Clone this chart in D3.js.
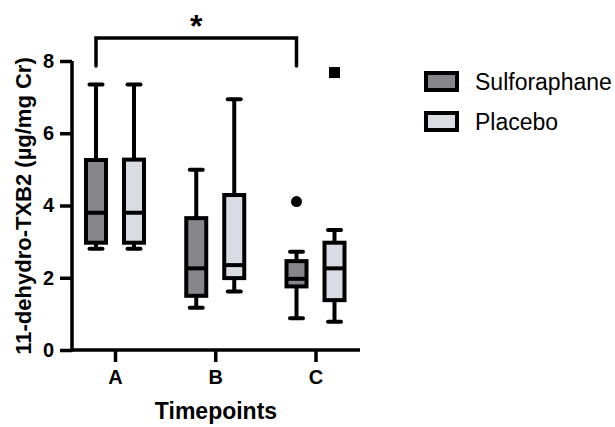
<!DOCTYPE html>
<html lang="en">
<head>
  <meta charset="UTF-8">
  <title>11-dehydro-TXB2 box plot</title>
  <style>
  body { margin: 0; background: #fff; }
  text { font-family: "Liberation Sans", Arial, sans-serif; fill: #000; }
  .axis path, .axis line { stroke: #000; stroke-width: 3.5px; }
  .axis text { font-size: 20px; font-weight: bold; }
  .box rect { stroke: #000; stroke-width: 4px; }
  .box line { stroke: #000; stroke-width: 4px; }
  </style>
</head>
<body>
  <script src="https://d3js.org/d3.v7.min.js"></script>
  <script type="text/javascript">

    var timepoints = ["A", "B", "C"];
    var groups = ["Sulforaphane", "Placebo"];
    var colors = ["#86868b", "#d9dde3"];
    var yTicks = [0, 2, 4, 6, 8];

    // [whisker low, q1, median, q3, whisker high] per timepoint
    var sulforaphane = [
      [2.8, 2.97, 3.8, 5.26, 7.35],
      [1.17, 1.5, 2.26, 3.65, 4.99],
      [0.88, 1.76, 1.97, 2.46, 2.72]
    ];
    var placebo = [
      [2.8, 2.97, 3.8, 5.27, 7.35],
      [1.62, 1.99, 2.35, 4.29, 6.94],
      [0.78, 1.38, 2.26, 2.97, 3.32]
    ];
    var sulforaphaneOutliers = [{t: "C", v: 4.11}];
    var placeboOutliers = [{t: "C", v: 7.68}];

    var width = 615;
    var height = 427;
    var svg = d3.select("body")
        .append("svg")
          .attr("width", width)
          .attr("height", height);

    var x = d3.scalePoint().domain(timepoints).range([115, 315.5]);
    var y = d3.scaleLinear().domain([0, 8]).range([350, 61]);
    var offset = d3.scalePoint().domain(groups).range([-19, 19]);

    // axes
    var yAxis = svg.append("g")
        .attr("class", "axis")
        .attr("transform", "translate(72,0)")
        .call(d3.axisLeft(y).tickValues(yTicks).tickSize(12).tickSizeOuter(0).tickPadding(6));
    yAxis.select("path.domain").attr("d", "M0,351.5V61");

    var xAxis = svg.append("g")
        .attr("class", "axis")
        .attr("transform", "translate(0,350)")
        .call(d3.axisBottom(x).tickSize(12).tickSizeOuter(0).tickPadding(8));
    xAxis.select("path.domain").attr("d", "M70.5,0H360");

    var series = [sulforaphane, placebo];
    var boxW = 20;
    var capW = 13;

    series.forEach(function(data, gi) {
      var g = svg.append("g").attr("class", "box");
      var items = g.selectAll("g")
          .data(data.map(function(d, i) { return {t: timepoints[i], s: d}; }))
          .enter().append("g")
          .attr("transform", function(d) { return "translate(" + (x(d.t) + offset(groups[gi])) + ",0)"; });

      items.append("line")
          .attr("y1", function(d) { return y(d.s[4]); })
          .attr("y2", function(d) { return y(d.s[0]); });
      items.append("line")
          .attr("x1", -capW / 2).attr("x2", capW / 2)
          .attr("y1", function(d) { return y(d.s[4]); })
          .attr("y2", function(d) { return y(d.s[4]); })
          .attr("stroke-linecap", "round");
      items.append("line")
          .attr("x1", -capW / 2).attr("x2", capW / 2)
          .attr("y1", function(d) { return y(d.s[0]); })
          .attr("y2", function(d) { return y(d.s[0]); })
          .attr("stroke-linecap", "round");
      items.append("rect")
          .attr("x", -boxW / 2)
          .attr("width", boxW)
          .attr("y", function(d) { return y(d.s[3]); })
          .attr("height", function(d) { return y(d.s[1]) - y(d.s[3]); })
          .attr("fill", colors[gi]);
      items.append("line")
          .attr("x1", -boxW / 2).attr("x2", boxW / 2)
          .attr("y1", function(d) { return y(d.s[2]); })
          .attr("y2", function(d) { return y(d.s[2]); });
    });

    // outliers
    svg.selectAll("circle.out")
        .data(sulforaphaneOutliers)
        .enter().append("circle")
        .attr("cx", function(d) { return x(d.t) + offset("Sulforaphane"); })
        .attr("cy", function(d) { return y(d.v); })
        .attr("r", 5.5)
        .attr("fill", "#000");
    svg.selectAll("rect.out")
        .data(placeboOutliers)
        .enter().append("rect")
        .attr("x", function(d) { return x(d.t) + offset("Placebo") - 5.5; })
        .attr("y", function(d) { return y(d.v) - 5.5; })
        .attr("width", 11).attr("height", 11)
        .attr("fill", "#000");

    // significance bracket A vs C (Sulforaphane)
    var bx1 = x("A") + offset("Sulforaphane");
    var bx2 = x("C") + offset("Sulforaphane");
    svg.append("path")
        .attr("d", "M" + bx1 + ",66V38H" + bx2 + "V66")
        .attr("fill", "none")
        .attr("stroke", "#000")
        .attr("stroke-width", 3.5)
        .attr("stroke-linecap", "round");
    svg.append("text")
        .attr("x", (bx1 + bx2) / 2)
        .attr("y", 37)
        .attr("text-anchor", "middle")
        .style("font-size", "32px")
        .style("font-weight", "bold")
        .text("*");

    // axis titles
    svg.append("text")
        .attr("transform", "translate(31,206) rotate(-90)")
        .attr("text-anchor", "middle")
        .style("font-size", "22px")
        .style("font-weight", "bold")
        .text("11-dehydro-TXB2 (µg/mg Cr)");
    svg.append("text")
        .attr("x", 216)
        .attr("y", 419)
        .attr("text-anchor", "middle")
        .style("font-size", "23px")
        .style("font-weight", "bold")
        .text("Timepoints");

    // legend
    var legend = svg.append("g").attr("class", "box")
        .selectAll("g")
        .data(groups)
        .enter().append("g")
        .attr("transform", function(d, i) { return "translate(426," + (73 + i * 40) + ")"; });
    legend.append("rect")
        .attr("width", 31).attr("height", 17)
        .attr("fill", function(d, i) { return colors[i]; });
    legend.append("text")
        .attr("x", 49)
        .attr("y", 17)
        .style("font-size", "23px")
        .text(function(d) { return d; });
  </script>
</body>
</html>
